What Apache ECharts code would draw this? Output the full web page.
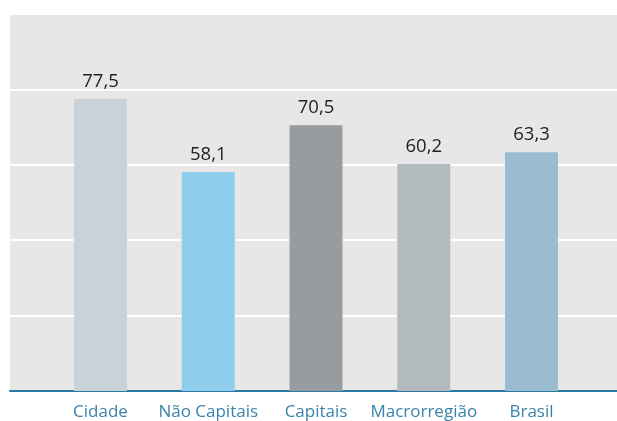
<!DOCTYPE html>
<html>
<head>
    <meta charset="utf-8">
    <title>ECharts</title>
    <script src="https://cdn.jsdelivr.net/npm/echarts@6/dist/echarts.min.js"></script>
    <style>
        html, body { margin: 0; padding: 0; background: #fff; }
    </style>
</head>
<body>
<div id="main" style="width: 617px;height:421px;"></div>
<script type="text/javascript">
    // dados
    var categorias = ['Cidade', 'Não Capitais', 'Capitais', 'Macrorregião', 'Brasil'];
    var valores = [77.5, 58.1, 70.5, 60.2, 63.3];
    var cores = ['#c9d2d9', '#8fcdec', '#979ca1', '#b2babe', '#9bbcd0'];

    var myChart = echarts.init(document.getElementById('main'));

    var fonte = '"Open Sans", "Noto Sans", sans-serif';

    var option = {
        animation: false,
        grid: [
            // fundo cinza + linhas de grade em toda a largura
            { left: 10, right: 0, top: 14, bottom: 30, show: true, backgroundColor: '#e7e7e7', borderWidth: 0 },
            // barras
            { left: 46.6, right: 31.6, top: 14, bottom: 30 }
        ],
        xAxis: [
            {
                gridIndex: 0,
                type: 'category',
                data: [''],
                axisLine: { show: true, lineStyle: { color: '#2b79a2', width: 2 } },
                axisTick: { show: false },
                axisLabel: { show: false }
            },
            {
                gridIndex: 1,
                type: 'category',
                data: categorias,
                axisLine: { show: false },
                axisTick: { show: false },
                axisLabel: { interval: 0, color: '#3b82ab', fontSize: 17, fontFamily: fonte, margin: 13 }
            }
        ],
        yAxis: [
            {
                gridIndex: 0,
                type: 'value',
                min: 0,
                max: 100,
                interval: 20,
                axisLine: { show: false },
                axisTick: { show: false },
                axisLabel: { show: false },
                splitLine: { lineStyle: { color: '#ffffff', width: 2 } }
            },
            {
                gridIndex: 1,
                type: 'value',
                min: 0,
                max: 100,
                interval: 20,
                show: false
            }
        ],
        series: [{
            type: 'bar',
            xAxisIndex: 1,
            yAxisIndex: 1,
            barWidth: 53,
            data: valores.map(function (v, i) {
                return { value: v, itemStyle: { color: cores[i] } };
            }),
            label: {
                show: true,
                position: 'top',
                distance: 8,
                color: '#222222',
                fontSize: 18.5,
                fontFamily: fonte,
                formatter: function (p) {
                    return p.value.toFixed(1).replace('.', ',');
                }
            }
        }]
    };

    myChart.setOption(option);
</script>
</body>
</html>
